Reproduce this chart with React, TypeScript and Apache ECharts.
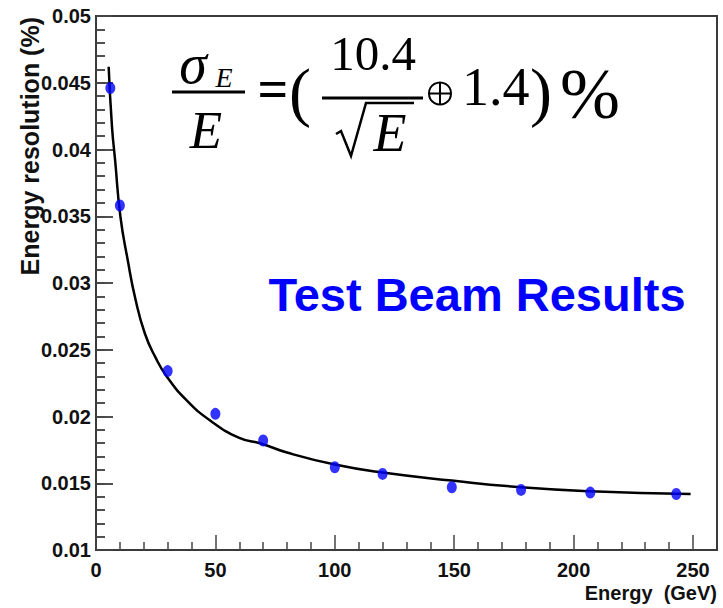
import React, { useEffect, useRef } from "react";
import * as echarts from "echarts";

// Measured test-beam points: energy (GeV) and resolution
const beamEnergy = [6, 10, 30, 50, 70, 100, 120, 149, 178, 207, 243];
const beamResolution = [0.0446, 0.0358, 0.0234, 0.0202, 0.0182, 0.0162, 0.0157, 0.0147, 0.0145, 0.0143, 0.0142];

// Fit curve
const fitEnergy = [5.3, 6.7, 8, 10.2, 13.3, 16.5, 20.5, 24.7, 29.6, 38, 47.8, 60, 68.7, 80, 100, 120, 149, 178, 207, 249];
const fitResolution = [0.0462, 0.0417, 0.0392, 0.035, 0.0317, 0.0288, 0.0262, 0.0245, 0.023, 0.0212, 0.0197, 0.0184, 0.018, 0.0173, 0.0164, 0.0158, 0.0152, 0.0147, 0.0144, 0.0142];

const xMin = 0;
const xMax = 250;
const xMajor = 50;
const yMin = 0.01;
const yMax = 0.05;
const yMajor = 0.005;
const yMinor = 0.001;

const xTitle = "Energy  (GeV)";
const yTitle = "Energy resolution (%)";
const banner = "Test Beam Results";

const AXIS = "#3a3a3a";
const TICK = "#444444";
const SANS = "Liberation Sans, Arial, sans-serif";
const SERIF = "Liberation Serif, Times New Roman, serif";

export default function App() {
  const ref = useRef<HTMLDivElement>(null);
  useEffect(() => {
    if (!ref.current) return;
    const chart = echarts.init(ref.current, null, { renderer: "svg" });
    const serifText = (text: string, x: number, y: number, size: number, opts: any = {}) => ({
      type: "text",
      x,
      y,
      z: 10,
      style: {
        text,
        fontFamily: SERIF,
        fontSize: size,
        fill: "#000",
        align: opts.align || "center",
        verticalAlign: "middle",
        fontStyle: opts.italic ? "italic" : "normal",
        fontWeight: opts.bold ? "bold" : "normal",
      },
    });
    // narrow strip grids whose y split lines act as the inside ticks of the left axis
    const stripX = (gridIndex: number) => ({
      type: "value",
      gridIndex,
      min: 0,
      max: 1,
      show: false,
    });
    const stripY = (gridIndex: number, interval: number) => ({
      type: "value",
      gridIndex,
      min: yMin,
      max: yMax,
      interval,
      axisLine: { show: false },
      axisTick: { show: false },
      axisLabel: { show: false },
      splitLine: { show: true, lineStyle: { color: TICK, width: 1.5 } },
    });
    const option: any = {
      animation: false,
      backgroundColor: "#fff",
      grid: [
        { left: 96, top: 16, right: 30, bottom: 58 },
        { left: 96, top: 16, width: 17, bottom: 58 },
        { left: 96, top: 16, width: 9, bottom: 58 },
      ],
      xAxis: [
        {
          type: "value",
          gridIndex: 0,
          min: xMin,
          max: xMax,
          interval: xMajor,
          axisLine: { show: true, onZero: false, lineStyle: { color: AXIS, width: 2 } },
          axisTick: { show: true, inside: true, length: 15, lineStyle: { color: TICK, width: 1.5 } },
          minorTick: { show: true, splitNumber: 5, length: 8, lineStyle: { color: TICK, width: 1.5 } },
          axisLabel: {
            margin: 10,
            fontFamily: SANS,
            fontWeight: "bold",
            fontSize: 20,
            color: "#111",
          },
          splitLine: { show: false },
          minorSplitLine: { show: false },
        },
        stripX(1),
        stripX(2),
      ],
      yAxis: [
        {
          type: "value",
          gridIndex: 0,
          min: yMin,
          max: yMax,
          interval: yMajor,
          position: "left",
          axisLine: { show: true, onZero: false, lineStyle: { color: AXIS, width: 2 } },
          axisTick: { show: true, inside: true, length: 17, lineStyle: { color: TICK, width: 1.5 } },
          minorTick: { show: true, splitNumber: 5, length: 9, lineStyle: { color: TICK, width: 1.5 } },
          axisLabel: {
            margin: 5,
            fontFamily: SANS,
            fontWeight: "bold",
            fontSize: 20,
            color: "#111",
            formatter: (v: number) => String(Number(v.toFixed(3))),
          },
          splitLine: { show: false },
          minorSplitLine: { show: false },
        },
        stripY(1, yMajor),
        stripY(2, yMinor),
      ],
      series: [
        {
          type: "line",
          xAxisIndex: 0,
          yAxisIndex: 0,
          data: fitEnergy.map((e, i) => [e, fitResolution[i]]),
          smooth: true,
          showSymbol: false,
          lineStyle: { color: "#000", width: 2.5 },
          z: 3,
        },
        {
          type: "scatter",
          xAxisIndex: 0,
          yAxisIndex: 0,
          data: beamEnergy.map((e, i) => [e, beamResolution[i]]),
          symbol: "circle",
          symbolSize: [10, 12],
          itemStyle: { color: "#0000ff" },
          z: 4,
        },
      ],
      graphic: [
        {
          type: "rect",
          z: -1,
          silent: true,
          shape: { x: 96, y: 16, width: 621, height: 534 },
          style: { fill: null, stroke: AXIS, lineWidth: 2 },
        },
        {
          type: "text",
          x: 30,
          y: 17,
          rotation: Math.PI / 2,
          style: {
            text: yTitle,
            fontFamily: SANS,
            fontWeight: "bold",
            fontSize: 25,
            fill: "#111",
            align: "right",
            verticalAlign: "middle",
          },
        },
        {
          type: "text",
          x: 717,
          y: 593,
          style: {
            text: xTitle,
            fontFamily: SANS,
            fontWeight: "bold",
            fontSize: 20,
            fill: "#111",
            align: "right",
            verticalAlign: "middle",
          },
        },
        {
          type: "text",
          x: 477,
          y: 294,
          style: {
            text: banner,
            fontFamily: SANS,
            fontWeight: "bold",
            fontSize: 47,
            fill: "#0000ff",
            align: "center",
            verticalAlign: "middle",
          },
        },
        // formula: sigma_E / E = ( 10.4 / sqrt(E) (+) 1.4 )%
        serifText("σ", 193, 64, 56, { italic: true }),
        serifText("E", 224, 77, 28, { italic: true }),
        { type: "rect", z: 10, shape: { x: 172, y: 90.5, width: 73, height: 3 }, style: { fill: "#000" } },
        serifText("E", 206, 130, 53, { italic: true }),
        serifText("=", 273, 89, 54, { bold: true }),
        serifText("(", 300, 91, 66),
        serifText("10.4", 373, 53, 49),
        { type: "rect", z: 10, shape: { x: 322, y: 96.5, width: 101, height: 3 }, style: { fill: "#000" } },
        {
          type: "polyline",
          z: 10,
          shape: { points: [[336, 134], [341, 131], [351, 156], [366, 103], [414, 103]] },
          style: { stroke: "#000", lineWidth: 2.5, fill: null },
        },
        serifText("E", 390, 133, 54, { italic: true }),
        { type: "circle", z: 10, shape: { cx: 440, cy: 93.5, r: 11 }, style: { stroke: "#000", lineWidth: 2, fill: null } },
        { type: "line", z: 10, shape: { x1: 429, y1: 93.5, x2: 451, y2: 93.5 }, style: { stroke: "#000", lineWidth: 2 } },
        { type: "line", z: 10, shape: { x1: 440, y1: 82.5, x2: 440, y2: 104.5 }, style: { stroke: "#000", lineWidth: 2 } },
        serifText("1.4", 462, 86.5, 54, { align: "left" }),
        serifText(")", 541, 91, 66),
        serifText("%", 560, 94, 72, { align: "left" }),
      ],
    };
    chart.setOption(option);
    return () => chart.dispose();
  }, []);
  return (
    <div
      ref={ref}
      style={{ position: "fixed", left: 0, top: 0, width: 723, height: 608, background: "#fff" }}
    />
  );
}
